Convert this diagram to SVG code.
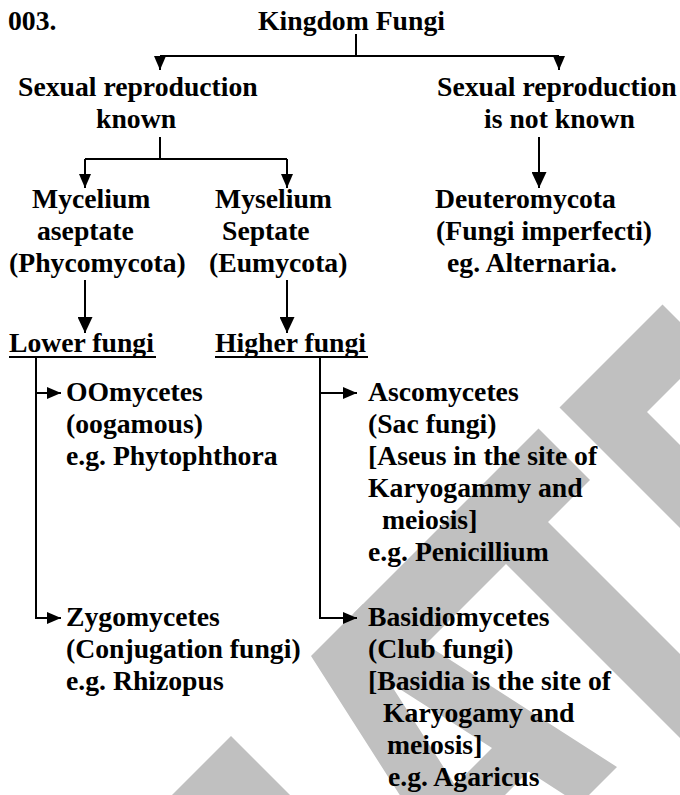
<svg xmlns="http://www.w3.org/2000/svg" width="680" height="795" viewBox="0 0 680 795">
<defs>
<style>
text{font-family:"Liberation Serif","Times New Roman",serif;font-weight:bold;font-size:27.7px;fill:#000}
.ln{stroke:#000;stroke-width:2;fill:none}
.wm{fill:#c0c0c0}
</style>
<marker id="ah" markerUnits="userSpaceOnUse" markerWidth="14" markerHeight="12" refX="14" refY="6" orient="auto"><path d="M0,0 L14,6 L0,12 Z" fill="#000"/></marker>
<marker id="ahL" markerUnits="userSpaceOnUse" markerWidth="16" markerHeight="15" refX="16" refY="7.5" orient="auto"><path d="M0,0 L16,7.5 L0,15 Z" fill="#000"/></marker>
</defs>
<rect width="680" height="795" fill="#fff"/>
<g id="watermark" transform="matrix(0.5,-0.5,0.5,0.5,0,0)">
<path class="wm" d="M-505,967 L-505,1500 L-900,1500 L-900,967 Z"/>
<path class="wm" fill-rule="evenodd" d="M-345,967 L-241,967 L-150,1384 L-225,1384 L-243,1300 L-343,1300 L-361,1384 L-437,1384 Z M-293,1072 L-256,1240 L-330,1240 Z"/>
<path class="wm" d="M-260,967 L110,967 L110,1070 L26,1070 L26,1800 L-58,1800 L-58,1070 L-225,1070 Z"/>
<path class="wm" d="M152,967 L358,967 L358,1059 L235,1059 L235,1800 L152,1800 Z"/>
</g>
<g id="connectors">
<path class="ln" d="M356,34 V56 M160,56 H559"/>
<path class="ln" d="M160,56 V70" marker-end="url(#ah)"/>
<path class="ln" d="M559,56 V70" marker-end="url(#ah)"/>
<path class="ln" d="M160,137 V159 M85,159 H287"/>
<path class="ln" d="M85,159 V188" marker-end="url(#ah)"/>
<path class="ln" d="M287,159 V188" marker-end="url(#ah)"/>
<path class="ln" d="M539,137 V188" marker-end="url(#ahL)"/>
<path class="ln" d="M85,280 V333" marker-end="url(#ahL)"/>
<path class="ln" d="M287,280 V333" marker-end="url(#ahL)"/>
<path class="ln" d="M9,357 H156 M215,357 H368"/>
<path class="ln" d="M36,357 V618 H61" marker-end="url(#ah)"/>
<path class="ln" d="M36,393 H61" marker-end="url(#ah)"/>
<path class="ln" d="M320,357 V618 H357" marker-end="url(#ah)"/>
<path class="ln" d="M320,393 H357" marker-end="url(#ah)"/>
</g>
<g id="label-003"><text x="8" y="30">003.</text></g>
<g id="kingdom-fungi"><text x="258" y="30">Kingdom Fungi</text></g>
<g id="sexual-known"><text x="18" y="96">Sexual reproduction</text><text x="96" y="128">known</text></g>
<g id="sexual-not-known"><text x="437" y="96">Sexual reproduction</text><text x="484" y="128">is not known</text></g>
<g id="mycelium-aseptate"><text x="32" y="208">Mycelium</text><text x="37" y="240">aseptate</text><text x="9" y="272">(Phycomycota)</text></g>
<g id="myselium-septate"><text x="215" y="208">Myselium</text><text x="222" y="240">Septate</text><text x="209" y="272">(Eumycota)</text></g>
<g id="deuteromycota"><text x="435" y="208">Deuteromycota</text><text x="436" y="240">(Fungi imperfecti)</text><text x="447" y="272">eg. Alternaria.</text></g>
<g id="lower-fungi"><text x="9" y="352">Lower fungi</text></g>
<g id="higher-fungi"><text x="215" y="352">Higher fungi</text></g>
<g id="oomycetes"><text x="66" y="401">OOmycetes</text><text x="66" y="433">(oogamous)</text><text x="66" y="465">e.g. Phytophthora</text></g>
<g id="ascomycetes"><text x="368" y="401">Ascomycetes</text><text x="368" y="433">(Sac fungi)</text><text x="368" y="465">[Aseus in the site of</text><text x="368" y="497">Karyogammy and</text><text x="382" y="529">meiosis]</text><text x="368" y="561">e.g. Penicillium</text></g>
<g id="zygomycetes"><text x="66" y="626">Zygomycetes</text><text x="66" y="658">(Conjugation fungi)</text><text x="66" y="690">e.g. Rhizopus</text></g>
<g id="basidiomycetes"><text x="368" y="626">Basidiomycetes</text><text x="368" y="658">(Club fungi)</text><text x="368" y="690">[Basidia is the site of</text><text x="383" y="722">Karyogamy and</text><text x="387" y="754">meiosis]</text><text x="388" y="786">e.g. Agaricus</text></g>
</svg>
